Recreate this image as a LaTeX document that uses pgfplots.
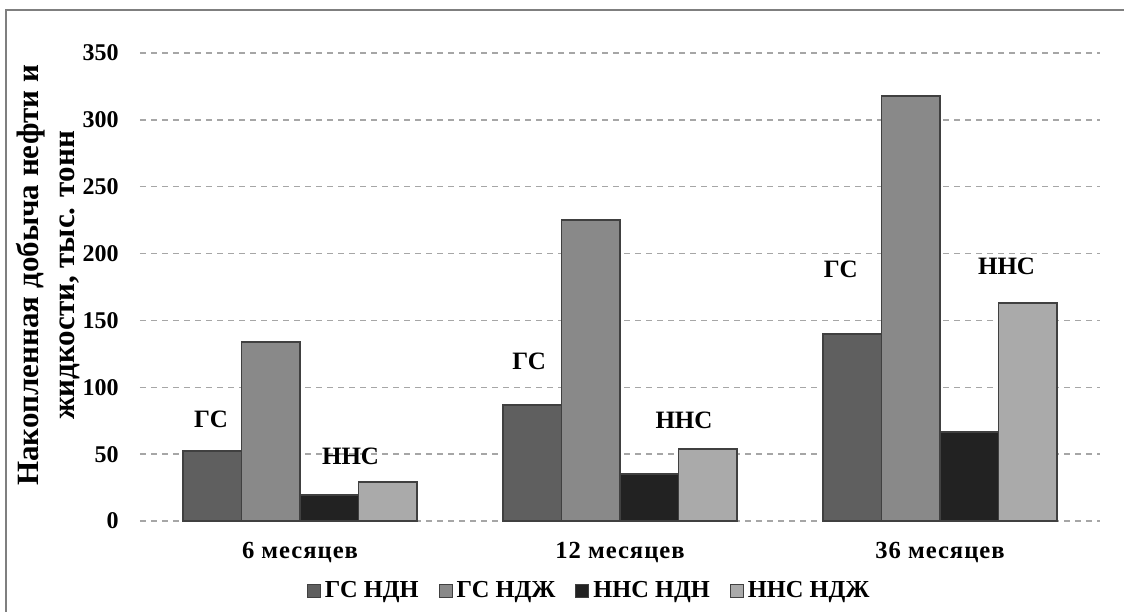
\documentclass[border=0pt]{standalone}
\usepackage{pgfplots}
\pgfplotsset{compat=1.18}
\usepackage{fontspec}
\setmainfont{Liberation Serif}
\newfontfamily\spaced[LetterSpace=4]{Liberation Serif}

\definecolor{gsndn}{HTML}{5F5F5F}
\definecolor{gsndzh}{HTML}{898989}
\definecolor{nnsndn}{HTML}{222222}
\definecolor{nnsndzh}{HTML}{AAAAAA}
\definecolor{edge}{HTML}{404040}
\definecolor{gridc}{HTML}{A6A6A6}
\definecolor{framec}{HTML}{7F7F7F}

\begin{document}
\begin{tikzpicture}
\useasboundingbox (-70pt,-45pt) rectangle (492pt,260.5pt);
\draw[framec, line width=1.25pt] (-67pt,-50pt) -- (-67pt,255.5pt) -- (500pt,255.5pt);
\begin{axis}[
  at={(0pt,0pt)}, anchor=south west,
  scale only axis,
  width=480pt, height=234pt,
  ybar=0pt, bar width=29.25pt,
  xmin=-0.5, xmax=2.5,
  ymin=0, ymax=350,
  ytick={0,50,...,350},
  xtick={0,1,2},
  xticklabels={6 месяцев, 12 месяцев, 36 месяцев},
  clip=false,
  axis line style={draw=none},
  tick style={draw=none},
  ymajorgrids,
  grid style={gridc, line width=0.75pt, dash pattern=on 3pt off 2.5pt},
  /pgf/number format/assume math mode=true,
  yticklabel style={font=\fontsize{12}{14}\selectfont\bfseries, anchor=east, inner sep=0pt, xshift=-10.5pt},
  xticklabel style={font=\fontsize{12.3}{14}\selectfont\bfseries\spaced, anchor=base, inner sep=0pt, yshift=-14.5pt},
  ylabel={Накопленная добыча нефти и\\жидкости, тыс. тонн},
  ylabel style={font=\fontsize{15.5}{18}\selectfont\bfseries, align=center,
    at={(axis description cs:-0.0958,0.525)}, anchor=center},
  legend columns=4,
  legend style={at={(axis description cs:0.469,-0.149)}, anchor=center, draw=none,
    font=\fontsize{12.2}{14}\selectfont\bfseries, inner sep=0pt,
    /tikz/every even column/.append style={column sep=8pt}},
  legend cell align=left,
  legend image code/.code={\draw[#1, line width=0.5pt] (0pt,-3.25pt) rectangle (6.5pt,3.25pt);},
]
\addplot[fill=gsndn, draw=edge, line width=0.75pt] coordinates {(0,52.4) (1,86.8) (2,139.9)};
\addplot[fill=gsndzh, draw=edge, line width=0.75pt] coordinates {(0,133.9) (1,225.0) (2,317.9)};
\addplot[fill=nnsndn, draw=edge, line width=0.75pt] coordinates {(0,19.4) (1,35.2) (2,66.6)};
\addplot[fill=nnsndzh, draw=edge, line width=0.75pt] coordinates {(0,29.2) (1,53.9) (2,163.0)};
\legend{ГС НДН, ГС НДЖ, ННС НДН, ННС НДЖ}

% group annotations
\node[font=\fontsize{12.5}{14}\selectfont\bfseries] at (axis cs:-0.278,76) {ГС};
\node[font=\fontsize{12.5}{14}\selectfont\bfseries] at (axis cs:0.158,48.6) {ННС};
\node[font=\fontsize{12.5}{14}\selectfont\bfseries] at (axis cs:0.716,119.7) {ГС};
\node[font=\fontsize{12.5}{14}\selectfont\bfseries] at (axis cs:1.2,75.5) {ННС};
\node[font=\fontsize{12.5}{14}\selectfont\bfseries] at (axis cs:1.69,188.5) {ГС};
\node[font=\fontsize{12.5}{14}\selectfont\bfseries] at (axis cs:2.208,190.7) {ННС};
\end{axis}
\end{tikzpicture}
\end{document}
